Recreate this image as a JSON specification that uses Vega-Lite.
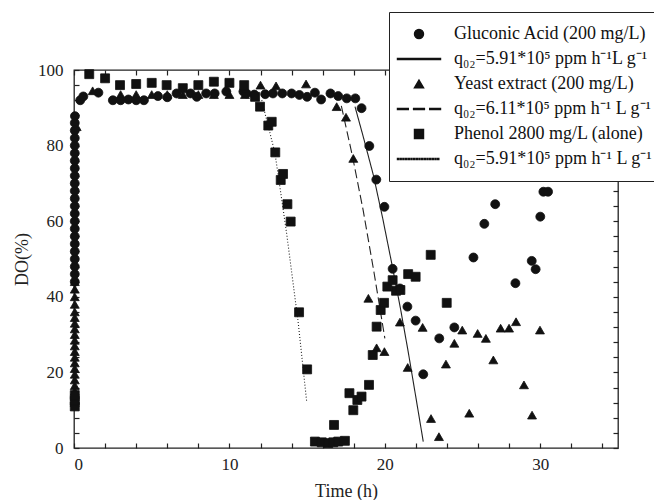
{
  "$schema": "https://vega.github.io/schema/vega-lite/v6.json",
  "width": 544,
  "height": 378,
  "autosize": {"type": "none"},
  "padding": {"left": 74, "top": 70, "right": 36, "bottom": 52},
  "background": "white",
  "config": {
    "font": "Liberation Serif",
    "view": {"stroke": "#222", "strokeWidth": 1.3},
    "axis": {
      "grid": false,
      "domain": false,
      "tickColor": "#222",
      "tickSize": -5,
      "tickWidth": 1.2,
      "labelFont": "Liberation Serif",
      "labelFontSize": 17,
      "labelColor": "#222",
      "titleFont": "Liberation Serif",
      "titleFontSize": 18,
      "titleFontWeight": "normal",
      "titleColor": "#222"
    }
  },
  "datasets": {
    "fits": [
      {"series": "q₀₂=5.91*10⁵ ppm h⁻¹L g⁻¹", "t": 18.08, "do": 90.3},
      {"series": "q₀₂=5.91*10⁵ ppm h⁻¹L g⁻¹", "t": 18.6, "do": 82.5},
      {"series": "q₀₂=5.91*10⁵ ppm h⁻¹L g⁻¹", "t": 19.26, "do": 72.2},
      {"series": "q₀₂=5.91*10⁵ ppm h⁻¹L g⁻¹", "t": 19.85, "do": 61},
      {"series": "q₀₂=5.91*10⁵ ppm h⁻¹L g⁻¹", "t": 20.44, "do": 48.9},
      {"series": "q₀₂=5.91*10⁵ ppm h⁻¹L g⁻¹", "t": 21.0, "do": 37.0},
      {"series": "q₀₂=5.91*10⁵ ppm h⁻¹L g⁻¹", "t": 21.5, "do": 25.5},
      {"series": "q₀₂=5.91*10⁵ ppm h⁻¹L g⁻¹", "t": 22.0, "do": 13.3},
      {"series": "q₀₂=5.91*10⁵ ppm h⁻¹L g⁻¹", "t": 22.47, "do": 1.7},
      {"series": "q₀₂=6.11*10⁵ ppm h⁻¹ L g⁻¹", "t": 17.2, "do": 90.5},
      {"series": "q₀₂=6.11*10⁵ ppm h⁻¹ L g⁻¹", "t": 17.9, "do": 77.5},
      {"series": "q₀₂=6.11*10⁵ ppm h⁻¹ L g⁻¹", "t": 18.6, "do": 63},
      {"series": "q₀₂=6.11*10⁵ ppm h⁻¹ L g⁻¹", "t": 19.3, "do": 46.5},
      {"series": "q₀₂=6.11*10⁵ ppm h⁻¹ L g⁻¹", "t": 20.0, "do": 29},
      {"series": "q₀₂=5.91*10⁵ ppm h⁻¹ L g⁻¹", "t": 12.08, "do": 92},
      {"series": "q₀₂=5.91*10⁵ ppm h⁻¹ L g⁻¹", "t": 12.93, "do": 78},
      {"series": "q₀₂=5.91*10⁵ ppm h⁻¹ L g⁻¹", "t": 13.68, "do": 56.8},
      {"series": "q₀₂=5.91*10⁵ ppm h⁻¹ L g⁻¹", "t": 14.43, "do": 33},
      {"series": "q₀₂=5.91*10⁵ ppm h⁻¹ L g⁻¹", "t": 14.97, "do": 12.3}
    ],
    "pts": [
      {"series": "Gluconic Acid (200 mg/L)", "t": 0.05, "do": 44},
      {"series": "Gluconic Acid (200 mg/L)", "t": 0.05, "do": 46},
      {"series": "Gluconic Acid (200 mg/L)", "t": 0.05, "do": 48},
      {"series": "Gluconic Acid (200 mg/L)", "t": 0.05, "do": 50},
      {"series": "Gluconic Acid (200 mg/L)", "t": 0.05, "do": 52},
      {"series": "Gluconic Acid (200 mg/L)", "t": 0.05, "do": 54},
      {"series": "Gluconic Acid (200 mg/L)", "t": 0.05, "do": 56},
      {"series": "Gluconic Acid (200 mg/L)", "t": 0.05, "do": 58},
      {"series": "Gluconic Acid (200 mg/L)", "t": 0.05, "do": 60},
      {"series": "Gluconic Acid (200 mg/L)", "t": 0.05, "do": 62},
      {"series": "Gluconic Acid (200 mg/L)", "t": 0.05, "do": 64},
      {"series": "Gluconic Acid (200 mg/L)", "t": 0.05, "do": 66},
      {"series": "Gluconic Acid (200 mg/L)", "t": 0.05, "do": 68},
      {"series": "Gluconic Acid (200 mg/L)", "t": 0.05, "do": 70},
      {"series": "Gluconic Acid (200 mg/L)", "t": 0.05, "do": 72},
      {"series": "Gluconic Acid (200 mg/L)", "t": 0.05, "do": 74},
      {"series": "Gluconic Acid (200 mg/L)", "t": 0.05, "do": 76},
      {"series": "Gluconic Acid (200 mg/L)", "t": 0.05, "do": 78},
      {"series": "Gluconic Acid (200 mg/L)", "t": 0.05, "do": 80},
      {"series": "Gluconic Acid (200 mg/L)", "t": 0.05, "do": 82},
      {"series": "Gluconic Acid (200 mg/L)", "t": 0.05, "do": 84},
      {"series": "Gluconic Acid (200 mg/L)", "t": 0.05, "do": 86},
      {"series": "Gluconic Acid (200 mg/L)", "t": 0.06, "do": 87.8},
      {"series": "Gluconic Acid (200 mg/L)", "t": 0.4, "do": 92},
      {"series": "Gluconic Acid (200 mg/L)", "t": 0.6, "do": 93},
      {"series": "Gluconic Acid (200 mg/L)", "t": 1.57, "do": 94},
      {"series": "Gluconic Acid (200 mg/L)", "t": 2.5, "do": 92},
      {"series": "Gluconic Acid (200 mg/L)", "t": 3.0, "do": 92},
      {"series": "Gluconic Acid (200 mg/L)", "t": 3.5, "do": 92.2},
      {"series": "Gluconic Acid (200 mg/L)", "t": 4.0, "do": 92},
      {"series": "Gluconic Acid (200 mg/L)", "t": 4.5, "do": 92},
      {"series": "Gluconic Acid (200 mg/L)", "t": 5.4, "do": 93.1},
      {"series": "Gluconic Acid (200 mg/L)", "t": 6.0, "do": 92.8},
      {"series": "Gluconic Acid (200 mg/L)", "t": 6.6, "do": 93.8},
      {"series": "Gluconic Acid (200 mg/L)", "t": 7.5, "do": 93.8},
      {"series": "Gluconic Acid (200 mg/L)", "t": 7.9, "do": 92.9},
      {"series": "Gluconic Acid (200 mg/L)", "t": 8.5, "do": 93.8},
      {"series": "Gluconic Acid (200 mg/L)", "t": 9.05, "do": 93.8},
      {"series": "Gluconic Acid (200 mg/L)", "t": 9.8, "do": 94.3},
      {"series": "Gluconic Acid (200 mg/L)", "t": 10.9, "do": 94.3},
      {"series": "Gluconic Acid (200 mg/L)", "t": 11.1, "do": 93.8},
      {"series": "Gluconic Acid (200 mg/L)", "t": 11.6, "do": 93.5},
      {"series": "Gluconic Acid (200 mg/L)", "t": 12.3, "do": 93.6},
      {"series": "Gluconic Acid (200 mg/L)", "t": 12.8, "do": 93.8},
      {"series": "Gluconic Acid (200 mg/L)", "t": 13.4, "do": 93.8},
      {"series": "Gluconic Acid (200 mg/L)", "t": 14.0, "do": 93.8},
      {"series": "Gluconic Acid (200 mg/L)", "t": 14.5, "do": 93.4},
      {"series": "Gluconic Acid (200 mg/L)", "t": 15.0, "do": 92.9},
      {"series": "Gluconic Acid (200 mg/L)", "t": 15.5, "do": 94},
      {"series": "Gluconic Acid (200 mg/L)", "t": 15.9, "do": 92.2},
      {"series": "Gluconic Acid (200 mg/L)", "t": 16.5, "do": 93.8},
      {"series": "Gluconic Acid (200 mg/L)", "t": 17.0, "do": 93.1},
      {"series": "Gluconic Acid (200 mg/L)", "t": 17.55, "do": 92.5},
      {"series": "Gluconic Acid (200 mg/L)", "t": 18.1, "do": 92.5},
      {"series": "Gluconic Acid (200 mg/L)", "t": 18.5, "do": 89.9},
      {"series": "Gluconic Acid (200 mg/L)", "t": 19.0, "do": 79.9},
      {"series": "Gluconic Acid (200 mg/L)", "t": 19.45, "do": 71},
      {"series": "Gluconic Acid (200 mg/L)", "t": 19.97, "do": 63.8},
      {"series": "Gluconic Acid (200 mg/L)", "t": 20.5, "do": 47.4},
      {"series": "Gluconic Acid (200 mg/L)", "t": 20.97, "do": 42.2},
      {"series": "Gluconic Acid (200 mg/L)", "t": 21.45, "do": 37.4},
      {"series": "Gluconic Acid (200 mg/L)", "t": 21.98, "do": 33.7},
      {"series": "Gluconic Acid (200 mg/L)", "t": 22.47, "do": 19.5},
      {"series": "Gluconic Acid (200 mg/L)", "t": 23.5, "do": 29},
      {"series": "Gluconic Acid (200 mg/L)", "t": 24.47, "do": 31.9},
      {"series": "Gluconic Acid (200 mg/L)", "t": 25.7, "do": 50.4},
      {"series": "Gluconic Acid (200 mg/L)", "t": 26.4, "do": 59.3},
      {"series": "Gluconic Acid (200 mg/L)", "t": 27.1, "do": 64.5},
      {"series": "Gluconic Acid (200 mg/L)", "t": 28.4, "do": 43.6},
      {"series": "Gluconic Acid (200 mg/L)", "t": 29.45, "do": 49.5},
      {"series": "Gluconic Acid (200 mg/L)", "t": 29.7, "do": 47.3},
      {"series": "Gluconic Acid (200 mg/L)", "t": 30.0, "do": 61.2},
      {"series": "Gluconic Acid (200 mg/L)", "t": 30.2, "do": 67.8},
      {"series": "Gluconic Acid (200 mg/L)", "t": 30.5, "do": 67.8},
      {"series": "Yeast extract (200 mg/L)", "t": 0.05, "do": 12},
      {"series": "Yeast extract (200 mg/L)", "t": 0.05, "do": 13.5},
      {"series": "Yeast extract (200 mg/L)", "t": 0.05, "do": 15},
      {"series": "Yeast extract (200 mg/L)", "t": 0.05, "do": 16.5},
      {"series": "Yeast extract (200 mg/L)", "t": 0.05, "do": 18},
      {"series": "Yeast extract (200 mg/L)", "t": 0.05, "do": 19.5},
      {"series": "Yeast extract (200 mg/L)", "t": 0.05, "do": 21},
      {"series": "Yeast extract (200 mg/L)", "t": 0.05, "do": 22.5},
      {"series": "Yeast extract (200 mg/L)", "t": 0.05, "do": 24},
      {"series": "Yeast extract (200 mg/L)", "t": 0.05, "do": 25.5},
      {"series": "Yeast extract (200 mg/L)", "t": 0.05, "do": 27},
      {"series": "Yeast extract (200 mg/L)", "t": 0.05, "do": 28.5},
      {"series": "Yeast extract (200 mg/L)", "t": 0.05, "do": 30},
      {"series": "Yeast extract (200 mg/L)", "t": 0.05, "do": 31.5},
      {"series": "Yeast extract (200 mg/L)", "t": 0.05, "do": 33},
      {"series": "Yeast extract (200 mg/L)", "t": 0.05, "do": 34.5},
      {"series": "Yeast extract (200 mg/L)", "t": 0.05, "do": 36},
      {"series": "Yeast extract (200 mg/L)", "t": 0.05, "do": 38},
      {"series": "Yeast extract (200 mg/L)", "t": 0.05, "do": 40},
      {"series": "Yeast extract (200 mg/L)", "t": 0.05, "do": 42},
      {"series": "Yeast extract (200 mg/L)", "t": 0.05, "do": 44},
      {"series": "Yeast extract (200 mg/L)", "t": 0.17, "do": 85},
      {"series": "Yeast extract (200 mg/L)", "t": 1.2, "do": 94.5},
      {"series": "Yeast extract (200 mg/L)", "t": 3, "do": 93.5},
      {"series": "Yeast extract (200 mg/L)", "t": 4, "do": 93.5},
      {"series": "Yeast extract (200 mg/L)", "t": 5, "do": 93.5},
      {"series": "Yeast extract (200 mg/L)", "t": 6, "do": 93.5},
      {"series": "Yeast extract (200 mg/L)", "t": 7, "do": 93.5},
      {"series": "Yeast extract (200 mg/L)", "t": 8, "do": 93.5},
      {"series": "Yeast extract (200 mg/L)", "t": 9, "do": 93.5},
      {"series": "Yeast extract (200 mg/L)", "t": 10, "do": 93.5},
      {"series": "Yeast extract (200 mg/L)", "t": 11, "do": 93.5},
      {"series": "Yeast extract (200 mg/L)", "t": 12.0, "do": 96},
      {"series": "Yeast extract (200 mg/L)", "t": 13.0, "do": 95.8},
      {"series": "Yeast extract (200 mg/L)", "t": 14.93, "do": 96.3},
      {"series": "Yeast extract (200 mg/L)", "t": 16.9, "do": 90.3},
      {"series": "Yeast extract (200 mg/L)", "t": 17.5, "do": 87.5},
      {"series": "Yeast extract (200 mg/L)", "t": 17.97, "do": 76.6},
      {"series": "Yeast extract (200 mg/L)", "t": 18.94, "do": 39.6},
      {"series": "Yeast extract (200 mg/L)", "t": 19.47, "do": 26.5},
      {"series": "Yeast extract (200 mg/L)", "t": 19.97, "do": 25.5},
      {"series": "Yeast extract (200 mg/L)", "t": 20.97, "do": 33.3},
      {"series": "Yeast extract (200 mg/L)", "t": 21.47, "do": 21.3},
      {"series": "Yeast extract (200 mg/L)", "t": 22.43, "do": 31.9},
      {"series": "Yeast extract (200 mg/L)", "t": 22.97, "do": 7.8},
      {"series": "Yeast extract (200 mg/L)", "t": 23.48, "do": 3.0},
      {"series": "Yeast extract (200 mg/L)", "t": 23.93, "do": 22.2},
      {"series": "Yeast extract (200 mg/L)", "t": 24.47, "do": 27.7},
      {"series": "Yeast extract (200 mg/L)", "t": 24.98, "do": 31.2},
      {"series": "Yeast extract (200 mg/L)", "t": 25.43, "do": 9.2},
      {"series": "Yeast extract (200 mg/L)", "t": 25.97, "do": 30.3},
      {"series": "Yeast extract (200 mg/L)", "t": 26.5, "do": 29.0},
      {"series": "Yeast extract (200 mg/L)", "t": 26.98, "do": 23.3},
      {"series": "Yeast extract (200 mg/L)", "t": 27.45, "do": 31.7},
      {"series": "Yeast extract (200 mg/L)", "t": 27.99, "do": 31.7},
      {"series": "Yeast extract (200 mg/L)", "t": 28.44, "do": 33.4},
      {"series": "Yeast extract (200 mg/L)", "t": 28.95, "do": 16.7},
      {"series": "Yeast extract (200 mg/L)", "t": 29.47, "do": 8.7},
      {"series": "Yeast extract (200 mg/L)", "t": 29.98, "do": 31.2},
      {"series": "Phenol 2800 mg/L (alone)", "t": 0.05, "do": 11},
      {"series": "Phenol 2800 mg/L (alone)", "t": 0.05, "do": 12.5},
      {"series": "Phenol 2800 mg/L (alone)", "t": 0.05, "do": 14},
      {"series": "Phenol 2800 mg/L (alone)", "t": 0.98, "do": 98.9},
      {"series": "Phenol 2800 mg/L (alone)", "t": 2.0, "do": 97.8},
      {"series": "Phenol 2800 mg/L (alone)", "t": 2.96, "do": 96},
      {"series": "Phenol 2800 mg/L (alone)", "t": 4.0, "do": 96.3},
      {"series": "Phenol 2800 mg/L (alone)", "t": 5.0, "do": 96.6},
      {"series": "Phenol 2800 mg/L (alone)", "t": 5.96, "do": 96},
      {"series": "Phenol 2800 mg/L (alone)", "t": 7.0, "do": 95.2},
      {"series": "Phenol 2800 mg/L (alone)", "t": 8.0, "do": 96},
      {"series": "Phenol 2800 mg/L (alone)", "t": 9.0, "do": 96.9},
      {"series": "Phenol 2800 mg/L (alone)", "t": 10.0, "do": 96.6},
      {"series": "Phenol 2800 mg/L (alone)", "t": 10.95, "do": 96},
      {"series": "Phenol 2800 mg/L (alone)", "t": 11.65, "do": 92.9},
      {"series": "Phenol 2800 mg/L (alone)", "t": 11.97, "do": 90.3},
      {"series": "Phenol 2800 mg/L (alone)", "t": 12.5, "do": 85.3},
      {"series": "Phenol 2800 mg/L (alone)", "t": 12.72, "do": 86.3},
      {"series": "Phenol 2800 mg/L (alone)", "t": 12.95, "do": 78.2},
      {"series": "Phenol 2800 mg/L (alone)", "t": 13.3, "do": 70.9},
      {"series": "Phenol 2800 mg/L (alone)", "t": 13.45, "do": 72.5},
      {"series": "Phenol 2800 mg/L (alone)", "t": 13.73, "do": 64.5},
      {"series": "Phenol 2800 mg/L (alone)", "t": 13.94, "do": 59.9},
      {"series": "Phenol 2800 mg/L (alone)", "t": 14.48, "do": 35.9},
      {"series": "Phenol 2800 mg/L (alone)", "t": 15.0, "do": 20.8},
      {"series": "Phenol 2800 mg/L (alone)", "t": 15.5, "do": 1.7},
      {"series": "Phenol 2800 mg/L (alone)", "t": 15.94, "do": 1.5},
      {"series": "Phenol 2800 mg/L (alone)", "t": 16.36, "do": 1.3},
      {"series": "Phenol 2800 mg/L (alone)", "t": 16.68, "do": 1.5},
      {"series": "Phenol 2800 mg/L (alone)", "t": 17.0, "do": 1.7},
      {"series": "Phenol 2800 mg/L (alone)", "t": 17.43, "do": 1.9},
      {"series": "Phenol 2800 mg/L (alone)", "t": 16.73, "do": 6.1},
      {"series": "Phenol 2800 mg/L (alone)", "t": 17.72, "do": 14.5},
      {"series": "Phenol 2800 mg/L (alone)", "t": 17.97, "do": 10},
      {"series": "Phenol 2800 mg/L (alone)", "t": 18.23, "do": 12.7},
      {"series": "Phenol 2800 mg/L (alone)", "t": 18.5, "do": 13.6},
      {"series": "Phenol 2800 mg/L (alone)", "t": 18.98, "do": 16.7},
      {"series": "Phenol 2800 mg/L (alone)", "t": 19.22, "do": 24.6},
      {"series": "Phenol 2800 mg/L (alone)", "t": 19.47, "do": 32.1},
      {"series": "Phenol 2800 mg/L (alone)", "t": 19.73, "do": 36.5},
      {"series": "Phenol 2800 mg/L (alone)", "t": 19.95, "do": 38.4},
      {"series": "Phenol 2800 mg/L (alone)", "t": 20.16, "do": 42.7},
      {"series": "Phenol 2800 mg/L (alone)", "t": 20.5, "do": 44.4},
      {"series": "Phenol 2800 mg/L (alone)", "t": 20.72, "do": 41.6},
      {"series": "Phenol 2800 mg/L (alone)", "t": 21.0, "do": 41.8},
      {"series": "Phenol 2800 mg/L (alone)", "t": 21.5, "do": 46.0},
      {"series": "Phenol 2800 mg/L (alone)", "t": 21.98, "do": 45.3},
      {"series": "Phenol 2800 mg/L (alone)", "t": 22.95, "do": 51.1},
      {"series": "Phenol 2800 mg/L (alone)", "t": 23.98, "do": 38.4}
    ]
  },
  "layer": [
    {
      "data": {"name": "fits"},
      "mark": {"type": "line", "color": "#222", "strokeWidth": 1.1},
      "encoding": {
        "x": {
          "field": "t", "type": "quantitative",
          "scale": {"domain": [0, 35], "nice": false, "zero": false},
          "axis": {
            "orient": "bottom",
            "title": "Time (h)",
            "values": [0, 2, 4, 6, 8, 10, 12, 14, 16, 18, 20, 22, 24, 26, 28, 30, 32, 34],
            "labelExpr": "datum.value % 10 === 0 ? datum.label : ''",
            "labelPadding": 13,
            "titlePadding": 10
          }
        },
        "y": {
          "field": "do", "type": "quantitative",
          "scale": {"domain": [0, 100], "nice": false},
          "axis": {
            "orient": "left",
            "title": "DO(%)",
            "values": [0, 4, 8, 12, 16, 20, 24, 28, 32, 36, 40, 44, 48, 52, 56, 60, 64, 68, 72, 76, 80, 84, 88, 92, 96, 100],
            "labelExpr": "datum.value % 20 === 0 ? datum.label : ''",
            "labelPadding": 16,
            "titlePadding": 6
          }
        },
        "strokeDash": {
          "field": "series", "type": "nominal",
          "scale": {
            "domain": ["q₀₂=5.91*10⁵ ppm h⁻¹L g⁻¹", "q₀₂=6.11*10⁵ ppm h⁻¹ L g⁻¹", "q₀₂=5.91*10⁵ ppm h⁻¹ L g⁻¹"],
            "range": [[1, 0], [9, 4], [1, 2]]
          },
          "legend": null
        }
      }
    },
    {
      "data": {"name": "pts"},
      "mark": {"type": "point", "filled": true, "color": "#111", "stroke": "#111", "strokeWidth": 0.8, "opacity": 1, "size": 80},
      "encoding": {
        "x": {
          "field": "t", "type": "quantitative",
          "axis": {
            "orient": "top", "title": null, "labels": false,
            "values": [0, 2, 4, 6, 8, 10, 12, 14, 16, 18, 20, 22, 24, 26, 28, 30, 32, 34]
          }
        },
        "y": {
          "field": "do", "type": "quantitative",
          "axis": {
            "orient": "right", "title": null, "labels": false,
            "values": [0, 4, 8, 12, 16, 20, 24, 28, 32, 36, 40, 44, 48, 52, 56, 60, 64, 68, 72, 76, 80, 84, 88, 92, 96, 100]
          }
        },
        "shape": {
          "field": "series", "type": "nominal",
          "scale": {
            "domain": ["Gluconic Acid (200 mg/L)", "q₀₂=5.91*10⁵ ppm h⁻¹L g⁻¹", "Yeast extract (200 mg/L)", "q₀₂=6.11*10⁵ ppm h⁻¹ L g⁻¹", "Phenol 2800 mg/L (alone)", "q₀₂=5.91*10⁵ ppm h⁻¹ L g⁻¹"],
            "range": [
              "circle",
              "M-4.8,-0.12H4.8V0.12H-4.8Z",
              "triangle-up",
              "M-4.8,-0.12H-2.4V0.12H-4.8Z M-1.2,-0.12H1.2V0.12H-1.2Z M2.4,-0.12H4.8V0.12H2.4Z",
              "square",
              "M-4.8,-0.11H-4.58V0.11H-4.8Z M-4.2,-0.11H-3.98V0.11H-4.2Z M-3.6,-0.11H-3.38V0.11H-3.6Z M-3.0,-0.11H-2.78V0.11H-3.0Z M-2.4,-0.11H-2.18V0.11H-2.4Z M-1.8,-0.11H-1.58V0.11H-1.8Z M-1.2,-0.11H-0.98V0.11H-1.2Z M-0.6,-0.11H-0.38V0.11H-0.6Z M0.0,-0.11H0.22V0.11H0.0Z M0.6,-0.11H0.82V0.11H0.6Z M1.2,-0.11H1.42V0.11H1.2Z M1.8,-0.11H2.02V0.11H1.8Z M2.4,-0.11H2.62V0.11H2.4Z M3.0,-0.11H3.22V0.11H3.0Z M3.6,-0.11H3.82V0.11H3.6Z M4.2,-0.11H4.42V0.11H4.2Z"
            ]
          },
          "legend": {
            "title": null,
            "orient": "none",
            "legendX": 315,
            "legendY": -58,
            "strokeColor": "#222",
            "fillColor": "white",
            "padding": 13,
            "labelFont": "Liberation Serif",
            "labelFontSize": 18,
            "labelColor": "#111",
            "labelLimit": 400,
            "symbolSize": 80,
            "symbolOffset": 8,
            "labelOffset": 26,
            "rowPadding": 7,
            "symbolFillColor": "#111",
            "encode": {
              "labels": {
                "update": {
                  "fontSize": {"signal": "indexOf(datum.value, 'q') === 0 ? 17.5 : 18"}
                }
              },
              "symbols": {
                "update": {
                  "fill": {"signal": "indexOf(datum.value, 'h⁻¹ L') >= 0 && indexOf(datum.value, '5.91') >= 0 ? '#555' : '#111'"},
                  "stroke": {"value": "#111"},
                  "strokeWidth": {"signal": "indexOf(datum.value, 'q') === 0 ? 0 : 1"},
                  "opacity": {"value": 1}
                }
              }
            }
          }
        }
      }
    }
  ],
  "resolve": {"axis": {"x": "independent", "y": "independent"}}
}
